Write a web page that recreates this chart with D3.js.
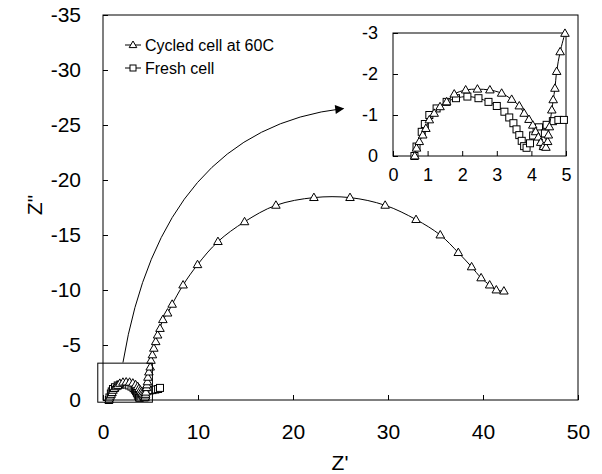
<!DOCTYPE html>
<meta charset="utf-8">
<script src="https://d3js.org/d3.v7.min.js"></script>
<style>
  body { margin: 0; background: #fff; }
  text { font-family: "Liberation Sans", Arial, sans-serif; fill: #000; }
</style>
<div id="viz"></div>
<script>
// cycled cell at 60C (triangles): Z' and Z''
var cycledX = [0.63, 0.68, 0.76, 0.86, 0.95, 1.05, 1.19, 1.36, 1.55, 1.77, 2.1, 2.44, 2.8, 3.14, 3.43, 3.65, 3.79, 3.93, 4.04, 4.12, 4.2, 4.27, 4.35, 4.42, 4.47, 4.49, 4.52, 4.59, 4.63, 4.68, 4.73, 4.83, 4.97,
  5.05, 5.2, 5.35, 5.55, 5.75, 6.0, 6.3, 6.8, 7.28, 8.43, 9.95, 12.1, 14.9, 18.2, 22.2, 26.0, 29.7, 32.95, 35.5, 37.4, 38.8, 39.8, 40.7, 41.4, 42.2];
var cycledY = [0, -0.19, -0.35, -0.51, -0.67, -0.88, -1.04, -1.2, -1.32, -1.51, -1.61, -1.63, -1.61, -1.53, -1.38, -1.22, -1.04, -0.89, -0.75, -0.59, -0.46, -0.33, -0.23, -0.21, -0.35, -0.51, -0.71, -1.12, -1.37, -1.65, -2.06, -2.54, -2.99,
  -3.6, -4.1, -4.7, -5.3, -5.9, -6.5, -7.3, -7.9, -8.7, -10.45, -12.3, -14.4, -16.2, -17.7, -18.4, -18.4, -17.7, -16.4, -15.0, -13.4, -12.1, -11.1, -10.45, -10.0, -9.9];

// fresh cell (squares)
var freshX = [0.62, 0.68, 0.83, 0.92, 1.05, 1.26, 1.55, 1.82, 2.15, 2.47, 2.76, 3.0, 3.22, 3.36, 3.48, 3.57, 3.65, 3.72, 3.79, 3.86, 3.96, 4.05, 4.15, 4.22, 4.28, 4.32, 4.35, 4.39, 4.44, 4.62, 4.78, 4.94, 5.2, 5.5, 5.8, 6.0];
var freshY = [0, -0.23, -0.59, -0.78, -1.0, -1.16, -1.32, -1.41, -1.45, -1.41, -1.32, -1.22, -1.08, -0.94, -0.8, -0.65, -0.51, -0.37, -0.24, -0.2, -0.31, -0.5, -0.65, -0.7, -0.55, -0.38, -0.24, -0.55, -0.76, -0.85, -0.88, -0.88, -0.9, -0.95, -1.0, -1.1];

var xTicks = [0, 10, 20, 30, 40, 50];
var yTicks = [0, -5, -10, -15, -20, -25, -30, -35];
var insetXTicks = [0, 1, 2, 3, 4, 5];
var insetYTicks = [0, -1, -2, -3];
var legendLabels = ["Cycled cell at 60C", "Fresh cell"];

var cycled = cycledX.map(function(d, i) { return {x: d, y: cycledY[i]}; });
var fresh = freshX.map(function(d, i) { return {x: d, y: freshY[i]}; });

var W = 602, H = 474;
var svg = d3.select("#viz").append("svg")
  .attr("width", W).attr("height", H);

// plain hyphen minus like the original
var fmt = function(d) { return String(d); };

// main scales
var x = d3.scaleLinear().domain([0, 50]).range([103, 578]);
var y = d3.scaleLinear().domain([0, -35]).range([400, 15]);

// arrowhead
svg.append("defs").append("marker")
  .attr("id", "arr").attr("viewBox", "0 0 10 10")
  .attr("refX", 9).attr("refY", 5)
  .attr("markerWidth", 14).attr("markerHeight", 9)
  .attr("markerUnits", "userSpaceOnUse")
  .attr("orient", "auto")
  .append("path").attr("d", "M0,0L10,5L0,10Z").attr("fill", "#000");

function triangle(s) {
  return "M0," + (-s) + "L" + (s * 0.95) + "," + (s * 0.65) + "L" + (-s * 0.95) + "," + (s * 0.65) + "Z";
}

function drawSeries(g, data, xs, ys, kind) {
  var line = d3.line()
    .x(function(d) { return xs(d.x); })
    .y(function(d) { return ys(d.y); })
    .curve(d3.curveCatmullRom.alpha(0.5));
  g.append("path").datum(data)
    .attr("d", line).attr("fill", "none")
    .attr("stroke", "#000").attr("stroke-width", 1);
  if (kind == "tri") {
    g.selectAll(null).data(data).enter().append("path")
      .attr("transform", function(d) { return "translate(" + xs(d.x) + "," + ys(d.y) + ")"; })
      .attr("d", triangle(4.5))
      .attr("fill", "#fff").attr("stroke", "#000").attr("stroke-width", 1);
  } else {
    g.selectAll(null).data(data).enter().append("rect")
      .attr("x", function(d) { return xs(d.x) - 3.5; })
      .attr("y", function(d) { return ys(d.y) - 3.5; })
      .attr("width", 7).attr("height", 7)
      .attr("fill", "#fff").attr("stroke", "#000").attr("stroke-width", 1);
  }
}

// main frame
svg.append("rect")
  .attr("x", x(0)).attr("y", y(-35))
  .attr("width", x(50) - x(0)).attr("height", y(0) - y(-35))
  .attr("fill", "none").attr("stroke", "#000").attr("stroke-width", 1);

var xAxis = svg.append("g")
  .attr("transform", "translate(0," + y(0) + ")")
  .call(d3.axisBottom(x).tickValues(xTicks).tickFormat(fmt).tickSizeInner(-5).tickSizeOuter(0).tickPadding(24));
var yAxis = svg.append("g")
  .attr("transform", "translate(" + x(0) + ",0)")
  .call(d3.axisLeft(y).tickValues(yTicks).tickFormat(fmt).tickSizeInner(-5).tickSizeOuter(0).tickPadding(22));
[xAxis, yAxis].forEach(function(a) {
  a.select(".domain").remove();
  a.selectAll("text").style("font-size", "21px").attr("fill", "#000");
  a.selectAll("line").attr("stroke", "#000");
});

svg.append("text").attr("x", 340).attr("y", 470)
  .attr("text-anchor", "middle").style("font-size", "21px").text("Z'");
svg.append("text")
  .attr("transform", "translate(42,205) rotate(-90)")
  .attr("text-anchor", "middle").style("font-size", "21px").text('Z"');

// main series
var gm = svg.append("g");
drawSeries(gm, fresh, x, y, "sq");
drawSeries(gm, cycled, x, y, "tri");

// zoom box in main plot
svg.append("rect")
  .attr("x", x(-0.55)).attr("y", y(-3.35))
  .attr("width", x(5.2) - x(-0.55)).attr("height", y(0.2) - y(-3.35))
  .attr("fill", "none").attr("stroke", "#000").attr("stroke-width", 1);

// arrow from zoom box to inset
svg.append("path")
  .attr("d", "M" + x(2.1) + "," + y(-3.4) + "Q" + x(6.2) + "," + y(-24.6) + " " + x(25.3) + "," + y(-26.5))
  .attr("fill", "none").attr("stroke", "#000").attr("stroke-width", 1)
  .attr("marker-end", "url(#arr)");

// legend
var lg = svg.append("g");
legendLabels.forEach(function(lab, i) {
  var ly = 45 + i * 23;
  var row = lg.append("g");
  row.append("line").attr("x1", 125).attr("x2", 141).attr("y1", ly).attr("y2", ly)
    .attr("stroke", "#000");
  if (i == 0) {
    row.append("path").attr("transform", "translate(133," + ly + ")")
      .attr("d", triangle(4)).attr("fill", "#fff").attr("stroke", "#000");
  } else {
    row.append("rect").attr("x", 130).attr("y", ly - 3).attr("width", 6).attr("height", 6)
      .attr("fill", "#fff").attr("stroke", "#000");
  }
  row.append("text").attr("x", 145).attr("y", ly + 6)
    .style("font-size", "16px").text(lab);
});

// inset
var xi = d3.scaleLinear().domain([0, 5]).range([393, 566]);
var yi = d3.scaleLinear().domain([0, -3]).range([156, 33]);

svg.append("rect")
  .attr("x", xi(0)).attr("y", yi(-3))
  .attr("width", xi(5) - xi(0)).attr("height", yi(0) - yi(-3))
  .attr("fill", "#fff").attr("stroke", "#000").attr("stroke-width", 1);

var ixAxis = svg.append("g")
  .attr("transform", "translate(0," + yi(0) + ")")
  .call(d3.axisBottom(xi).tickValues(insetXTicks).tickFormat(fmt).tickSizeInner(-5).tickSizeOuter(0).tickPadding(12));
var iyAxis = svg.append("g")
  .attr("transform", "translate(" + xi(0) + ",0)")
  .call(d3.axisLeft(yi).tickValues(insetYTicks).tickFormat(fmt).tickSizeInner(-5).tickSizeOuter(0).tickPadding(15));
[ixAxis, iyAxis].forEach(function(a) {
  a.select(".domain").remove();
  a.selectAll("text").style("font-size", "18px").attr("fill", "#000");
  a.selectAll("line").attr("stroke", "#000");
});

var gi = svg.append("g");
drawSeries(gi, fresh.filter(function(d) { return d.x <= 5; }), xi, yi, "sq");
drawSeries(gi, cycled.filter(function(d) { return d.x <= 5; }), xi, yi, "tri");
</script>
